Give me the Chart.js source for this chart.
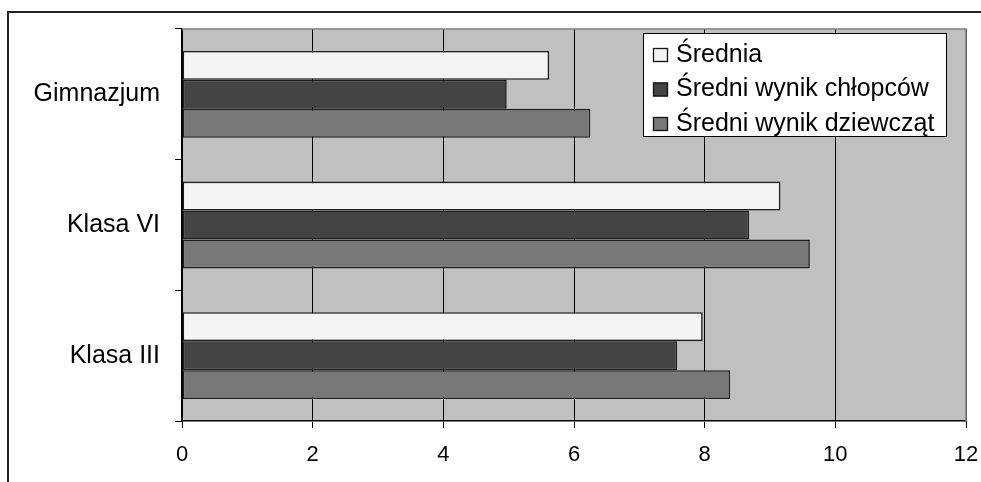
<!DOCTYPE html>
<html>
<head>
<meta charset="utf-8">
<script src="https://cdn.jsdelivr.net/npm/chart.js@4/dist/chart.umd.min.js"></script>
<style>
  html, body { margin: 0; padding: 0; background: #ffffff; }
  #wrap { position: relative; width: 981px; height: 482px; }
</style>
</head>
<body>
<div id="wrap"><canvas id="c" width="981" height="482"></canvas></div>
<script>
const categories = ["Gimnazjum", "Klasa VI", "Klasa III"];
const seriesNames = ["Średnia", "Średni wynik chłopców", "Średni wynik dziewcząt"];
const sredniaValues = [5.62, 9.16, 7.97];
const chlopcyValues = [4.97, 8.68, 7.58];
const dziewczetaValues = [6.25, 9.61, 8.39];
const xTicks = [0, 2, 4, 6, 8, 10, 12];

const colors = ["#f4f4f4", "#444444", "#787878"];
const FONT = "'Liberation Sans', Arial, sans-serif";

const framePlugin = {
  id: 'frame',
  beforeDraw(chart) {
    const ctx = chart.ctx;
    const a = chart.chartArea;
    ctx.save();
    ctx.fillStyle = '#c0c0c0';
    ctx.fillRect(a.left, a.top, a.right - a.left, a.bottom - a.top);
    ctx.restore();
  },
  afterDraw(chart) {
    const ctx = chart.ctx;
    const a = chart.chartArea;
    ctx.save();
    // outer frame
    ctx.strokeStyle = '#222222';
    ctx.lineWidth = 2;
    ctx.beginPath();
    ctx.moveTo(8, 490);
    ctx.lineTo(8, 12);
    ctx.lineTo(990, 12);
    ctx.stroke();
    // plot area top/right gray border
    ctx.strokeStyle = '#808080';
    ctx.lineWidth = 1.5;
    ctx.beginPath();
    ctx.moveTo(a.left, a.top);
    ctx.lineTo(a.right, a.top);
    ctx.lineTo(a.right, a.bottom);
    ctx.stroke();
    // legend
    const lx = 643.5, ly = 33.5, lw = 303, lh = 103;
    ctx.fillStyle = '#ffffff';
    ctx.fillRect(lx, ly, lw, lh);
    ctx.strokeStyle = '#000000';
    ctx.lineWidth = 1;
    ctx.strokeRect(lx, ly, lw, lh);
    ctx.font = '25px ' + FONT;
    ctx.textBaseline = 'middle';
    chart.data.datasets.forEach((ds, i) => {
      const cy = 54 + i * 34.5;
      ctx.fillStyle = ds.backgroundColor;
      ctx.fillRect(653, cy - 6, 15, 14);
      ctx.strokeStyle = '#111111';
      ctx.lineWidth = 1.3;
      ctx.strokeRect(653.5, cy - 5.5, 14, 13);
      ctx.fillStyle = '#000000';
      ctx.fillText(ds.label, 676, cy + 1);
    });
    ctx.restore();
  }
};

new Chart(document.getElementById('c'), {
  type: 'bar',
  data: {
    labels: categories,
    datasets: [
      { label: seriesNames[0], data: sredniaValues, backgroundColor: colors[0] },
      { label: seriesNames[1], data: chlopcyValues, backgroundColor: colors[1] },
      { label: seriesNames[2], data: dziewczetaValues, backgroundColor: colors[2] }
    ].map(d => Object.assign(d, { borderColor: '#1e1e1e', borderWidth: 1.6, borderSkipped: false, categoryPercentage: 0.665, barPercentage: 1.0 }))
  },
  options: {
    indexAxis: 'y',
    responsive: false,
    animation: false,
    devicePixelRatio: 1,
    layout: { padding: { left: 0, top: 29, right: 15, bottom: 0 } },
    plugins: { legend: { display: false }, tooltip: { enabled: false } },
    scales: {
      x: {
        min: 0, max: 12,
        afterBuildTicks(scale) { scale.ticks = xTicks.map(v => ({ value: v })); },
        afterFit(scale) { scale.height = 61; scale.paddingLeft = 0; scale.paddingRight = 0; },
        grid: { color: '#000000', lineWidth: 1, tickLength: 7, tickColor: '#000000', drawOnChartArea: true },
        border: { color: '#000000', width: 1.5 },
        ticks: { color: '#000000', padding: 14, font: { family: FONT, size: 22 } }
      },
      y: {
        afterFit(scale) { scale.width = 182; scale.paddingTop = 0; scale.paddingBottom = 0; },
        offset: true,
        grid: { offset: true, drawOnChartArea: false, tickLength: 7, tickColor: '#000000', color: '#000000' },
        border: { color: '#000000', width: 1.5 },
        ticks: { color: '#000000', padding: 15, font: { family: FONT, size: 25 } }
      }
    }
  },
  plugins: [framePlugin]
});
</script>
</body>
</html>
